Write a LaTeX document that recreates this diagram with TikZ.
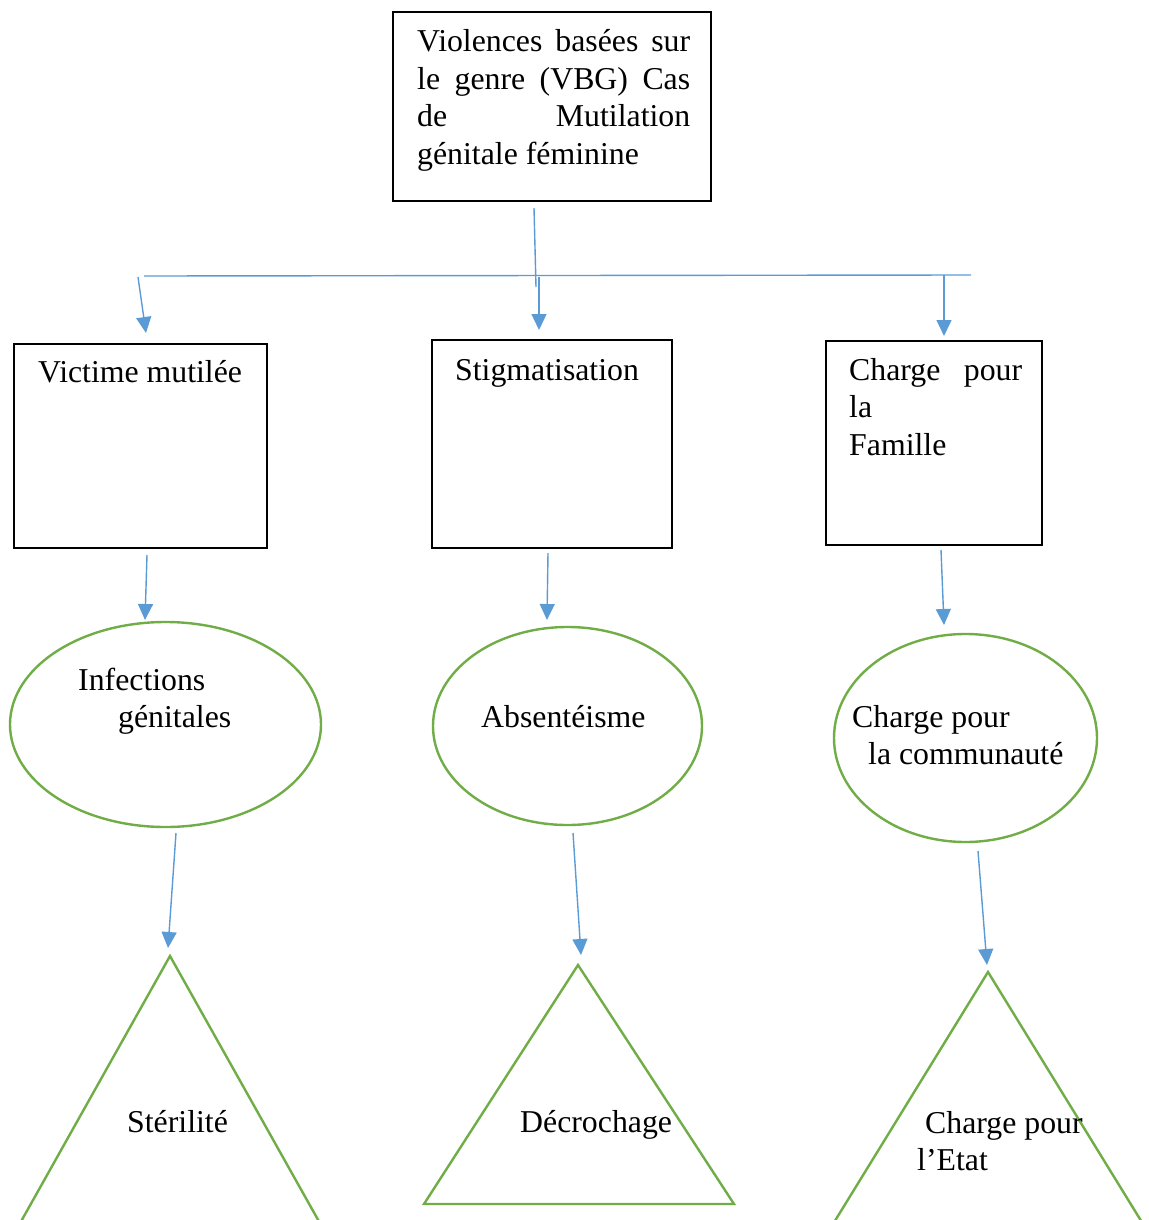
\documentclass[tikz,border=0pt]{standalone}
\usepackage{fontspec}
\setmainfont{Liberation Serif}
\usetikzlibrary{arrows.meta,shapes.geometric}
\definecolor{vbgblue}{HTML}{5B9BD5}
\definecolor{vbggreen}{HTML}{70AD47}
\begin{document}
\begin{tikzpicture}[x=1pt,y=-1pt,
  rectbox/.style={draw=black,line width=1.2pt,rectangle,inner sep=0pt},
  ellbox/.style={draw=vbggreen,line width=2.4pt,ellipse,inner sep=0pt},
  grn/.style={draw=vbggreen,line width=2.4pt,line join=miter},
  txt/.style={anchor=base west,inner sep=0pt,font=\fontsize{31.8}{37.5}\selectfont},
  conn/.style={draw=vbgblue,line width=1.4pt},
  arr/.style={conn,-{Triangle[length=16pt,width=15pt]},fill=vbgblue}
]
\useasboundingbox (0,0) rectangle (1148,1220);
\clip (0,0) rectangle (1148,1220);

% boxes
\node[rectbox,minimum width=318pt,minimum height=189pt] (top) at (552,106.5) {};
\node[rectbox,minimum width=253pt,minimum height=204pt] (b1) at (140.5,446) {};
\node[rectbox,minimum width=240pt,minimum height=208pt] (b2) at (552,444) {};
\node[rectbox,minimum width=216pt,minimum height=204pt] (b3) at (934,443) {};

% ellipses
\node[ellbox,minimum width=311pt,minimum height=205pt] (e1) at (165.5,724.5) {};
\node[ellbox,minimum width=269pt,minimum height=198pt] (e2) at (567.5,726) {};
\node[ellbox,minimum width=263pt,minimum height=208pt] (e3) at (965.5,738) {};

% triangles
\draw[grn] (170,956) -- (5,1250) -- (335,1250) -- cycle;
\draw[grn] (578,965) -- (424,1204) -- (734,1204) -- cycle;
\draw[grn] (988,972) -- (817,1250) -- (1159,1250) -- cycle;

% texts
\node[txt] (ttop) at (417,52) {\vtop{%
  \hbox to 273pt{Violences\hfill basées\hfill sur}%
  \hbox to 273pt{le\hfill genre\hfill (VBG)\hfill Cas}%
  \hbox to 273pt{de\hfill Mutilation}%
  \hbox{génitale féminine}}};
\node[txt] (tb1) at (38,382) {Victime mutilée};
\node[txt] (tb2) at (455,380) {Stigmatisation};
\node[txt] (tb3) at (849,380) {\vtop{%
  \hbox to 173pt{Charge\hfill pour}%
  \hbox{la}%
  \hbox{Famille}}};
\node[txt] (te1) at (78,690) {\vtop{\hbox{Infections}\hbox{\kern40pt génitales}}};
\node[txt] (te2) at (481,727) {Absentéisme};
\node[txt] (te3) at (852,727) {\vtop{\hbox{Charge pour}\hbox{\kern16pt la communauté}}};
\node[txt] (tt1) at (127,1132) {Stérilité};
\node[txt] (tt2) at (520,1132) {Décrochage};
\node[txt] (tt3) at (925,1133) {\vtop{\hbox{Charge pour}\hbox{\kern-8pt l’Etat}}};

% connector points
\coordinate (c0s) at (534,208);
\coordinate (c0e) at (536,287);
\coordinate (barL) at (144,276);
\coordinate (barR) at (971,275);
\coordinate (a1s) at (138,277); \coordinate (a1e) at (146,333);
\coordinate (a2s) at (539,277); \coordinate (a2e) at (539,330);
\coordinate (a3s) at (944,275); \coordinate (a3e) at (944,336);
\coordinate (d1s) at (147,555); \coordinate (d1e) at (145,620);
\coordinate (d2s) at (548,553); \coordinate (d2e) at (547,620);
\coordinate (d3s) at (941,550); \coordinate (d3e) at (944,625);
\coordinate (f1s) at (176,833); \coordinate (f1e) at (168,948);
\coordinate (f2s) at (573,833); \coordinate (f2e) at (581,955);
\coordinate (f3s) at (978,851); \coordinate (f3e) at (987,965);

\draw[conn] (c0s) -- (c0e);
\draw[conn] (barL) -- (barR);
\draw[arr] (a1s) -- (a1e);
\draw[arr] (a2s) -- (a2e);
\draw[arr] (a3s) -- (a3e);
\draw[arr] (d1s) -- (d1e);
\draw[arr] (d2s) -- (d2e);
\draw[arr] (d3s) -- (d3e);
\draw[arr] (f1s) -- (f1e);
\draw[arr] (f2s) -- (f2e);
\draw[arr] (f3s) -- (f3e);
\end{tikzpicture}
\end{document}
